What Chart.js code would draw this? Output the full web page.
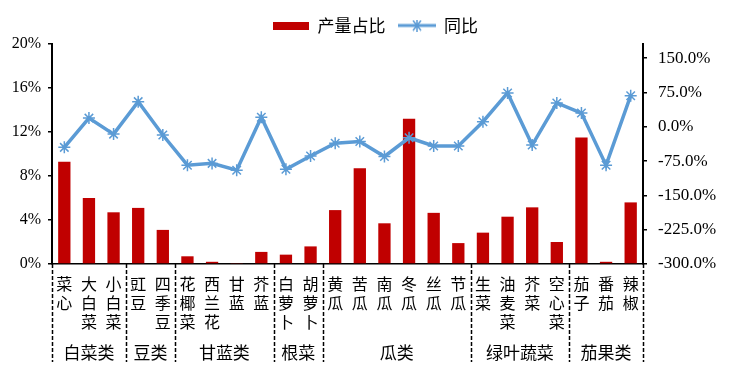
<!DOCTYPE html>
<html>
<head>
<meta charset="utf-8">
<script src="https://cdn.jsdelivr.net/npm/chart.js@4.4.1/dist/chart.umd.min.js"></script>
<style>
html,body{margin:0;padding:0;background:#fff;}
#wrap{width:750px;height:382px;position:relative;}
</style>
</head>
<body>
<div id="wrap"><canvas id="c" width="750" height="382"></canvas></div>
<script>
const categories = ['菜心','大白菜','小白菜','豇豆','四季豆','花椰菜','西兰花','甘蓝','芥蓝','白萝卜','胡萝卜','黄瓜','苦瓜','南瓜','冬瓜','丝瓜','节瓜','生菜','油麦菜','芥菜','空心菜','茄子','番茄','辣椒'];
const groupNames = ['白菜类','豆类','甘蓝类','根菜','瓜类','绿叶蔬菜','茄果类'];
const groupSizes = [3,2,4,2,6,4,3];
const shareValues = [9.3,6.0,4.7,5.1,3.1,0.7,0.2,0.05,1.1,0.85,1.6,4.9,8.7,3.7,13.2,4.65,1.9,2.85,4.3,5.15,2.0,11.5,0.2,5.6];
const yoyValues = [-45,19,-16,55,-18,-84,-80,-95,21,-93,-64,-36,-32,-65,-24,-42,-42,11,74,-40,52,30,-84,68];
const leftTicks = [0,4,8,12,16,20];
const rightTicks = [-300,-225,-150,-75,0,75,150];

const RED = '#C00000';
const BLUE = '#5B9BD5';
const CJK = '"Noto Sans CJK SC", sans-serif';
const SERIF = '"Liberation Serif", "Times New Roman", serif';

function makeBarIcon(){
  const c = document.createElement('canvas'); c.width = 36; c.height = 8;
  const g = c.getContext('2d'); g.fillStyle = RED; g.fillRect(0,0,36,8); return c;
}
function makeLineIcon(){
  const c = document.createElement('canvas'); c.width = 38; c.height = 12;
  const g = c.getContext('2d');
  g.strokeStyle = BLUE; g.lineWidth = 3;
  g.beginPath(); g.moveTo(0,6); g.lineTo(38,6); g.stroke();
  g.lineWidth = 1.5;
  g.beginPath();
  g.moveTo(15,1); g.lineTo(23,11); g.moveTo(23,1); g.lineTo(15,11); g.moveTo(19,0); g.lineTo(19,12);
  g.stroke();
  return c;
}
const icons = [makeBarIcon(), makeLineIcon()];

const groupPlugin = {
  id: 'groupPlugin',
  afterDraw(chart){
    const x = chart.scales.x;
    const ctx = chart.ctx;
    const step = x.getPixelForValue(1) - x.getPixelForValue(0);
    const edge = i => x.getPixelForValue(0) - step/2 + i*step;
    const top = chart.chartArea.bottom;
    const bottom = 362;
    ctx.save();
    ctx.strokeStyle = '#000';
    ctx.lineWidth = 1.5;
    ctx.setLineDash([4,2]);
    let idx = 0;
    const bounds = [0];
    groupSizes.forEach(s => { idx += s; bounds.push(idx); });
    bounds.forEach(b => {
      const px = Math.round(edge(b)) + 0.5;
      ctx.beginPath(); ctx.moveTo(px, top); ctx.lineTo(px, bottom); ctx.stroke();
    });
    ctx.setLineDash([]);
    ctx.fillStyle = '#000';
    ctx.font = '17px ' + CJK;
    ctx.textAlign = 'center';
    ctx.textBaseline = 'middle';
    for (let g = 0; g < groupNames.length; g++){
      const cx = (edge(bounds[g]) + edge(bounds[g+1]))/2;
      ctx.fillText(groupNames[g], cx, 353);
    }
    ctx.restore();
  }
};

new Chart(document.getElementById('c'), {
  type: 'bar',
  data: {
    labels: categories.map(s => s.split('')),
    datasets: [
      {
        type: 'line', label: '同比', data: yoyValues, yAxisID: 'y1',
        borderColor: BLUE, backgroundColor: BLUE, borderWidth: 3.5,
        pointStyle: 'star', pointRadius: 6, pointBorderWidth: 1.5,
        pointBorderColor: BLUE, pointBackgroundColor: BLUE,
        tension: 0, order: 1
      },
      {
        type: 'bar', label: '产量占比', data: shareValues, yAxisID: 'y',
        backgroundColor: RED, barPercentage: 0.5, categoryPercentage: 1.0, order: 2
      }
    ]
  },
  options: {
    responsive: false,
    animation: false,
    layout: { padding: { top: 4, left: 0, right: 0, bottom: 0 } },
    plugins: {
      tooltip: { enabled: false },
      legend: {
        display: true, position: 'top',
        labels: {
          usePointStyle: true, pointStyleWidth: 37, padding: 13,
          color: '#000', font: { family: CJK, size: 17 },
          generateLabels(chart){
            return [
              { text: '产量占比', pointStyle: icons[0], datasetIndex: 1, fillStyle: RED, strokeStyle: RED, lineWidth: 0, hidden: false },
              { text: '同比', pointStyle: icons[1], datasetIndex: 0, fillStyle: BLUE, strokeStyle: BLUE, lineWidth: 0, hidden: false }
            ];
          }
        }
      }
    },
    scales: {
      x: {
        offset: true,
        grid: { display: false },
        border: { display: true, color: '#000', width: 1.5, dash: [4,2] },
        ticks: {
          autoSkip: false, maxRotation: 0, minRotation: 0, padding: 2,
          color: '#000', font: { family: CJK, size: 16, lineHeight: 1.2 }
        },
        afterFit(s){ s.height = 118; }
      },
      y: {
        position: 'left', min: 0, max: 20,
        afterBuildTicks(s){ s.ticks = leftTicks.map(v => ({ value: v })); },
        grid: { drawOnChartArea: false, drawTicks: true, tickLength: 4, color: '#000', lineWidth: 1.5 },
        border: { display: true, color: '#000', width: 2 },
        ticks: { padding: 7, color: '#000', font: { family: SERIF, size: 16 }, callback: v => v + '%' },
        afterFit(s){ s.width = 52; }
      },
      y1: {
        position: 'right', min: -300, max: 181,
        afterBuildTicks(s){ s.ticks = rightTicks.map(v => ({ value: v })); },
        grid: { drawOnChartArea: false, drawTicks: true, tickLength: 4, color: '#000', lineWidth: 1.5 },
        border: { display: true, color: '#000', width: 2 },
        ticks: { padding: 11, color: '#000', font: { family: SERIF, size: 17 }, callback: v => v.toFixed(1) + '%' },
        afterFit(s){ s.width = 107; }
      }
    }
  },
  plugins: [groupPlugin]
});
</script>
</body>
</html>
